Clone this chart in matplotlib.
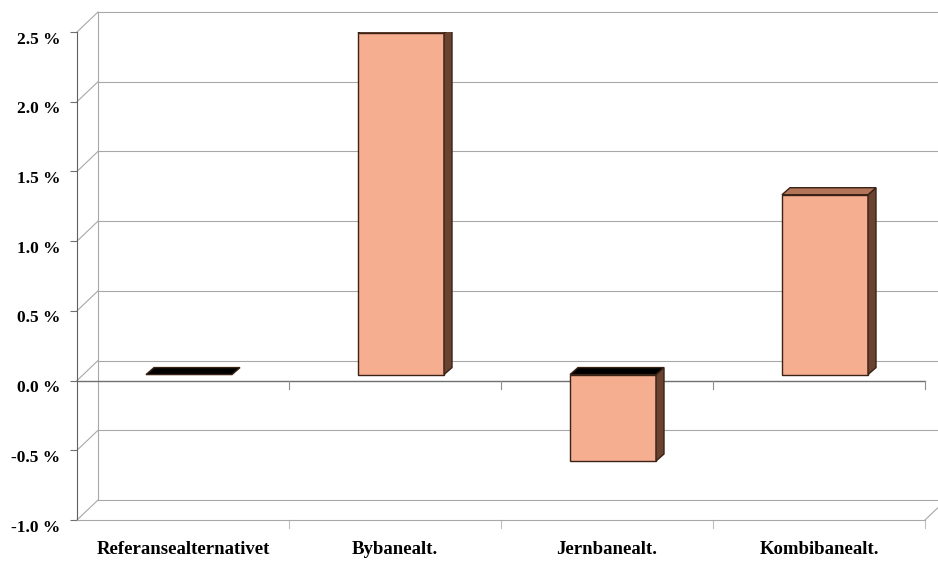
import numpy as np
import matplotlib
matplotlib.use("Agg")
import matplotlib.pyplot as plt
from matplotlib.patches import Polygon
from matplotlib.transforms import ScaledTranslation

# values in percent
categories = ["Referansealternativet", "Bybanealt.", "Jernbanealt.", "Kombibanealt."]
values = [0.0, 2.45, -0.62, 1.29]
yticks = [-1.0, -0.5, 0.0, 0.5, 1.0, 1.5, 2.0, 2.5]

plt.rcParams['font.family'] = ['Liberation Serif', 'DejaVu Serif']
plt.rcParams['font.weight'] = 'bold'

fig = plt.figure(figsize=(9.38, 5.61), dpi=100)
W, H = 938, 561
ax = fig.add_axes([77 / W, (H - 520) / H, 848 / W, 488 / H])
ax.set_xlim(-0.5, 3.5)
ax.set_ylim(-1.0, 2.5)

# pixel -> data scale
px_x = 4.0 / 848
px_y = 3.5 / 488

# depth of the chart box (oblique)
ddx, ddy = 21 * px_x, 20 * px_y
# bar plane offset and bar depth
bx0, by0 = 6 * px_x, 6 * px_y
bdx, bdy = 8 * px_x, 7 * px_y
bar_w = 86 * px_x

grid_c = "#a8a8a8"
kw = dict(color=grid_c, lw=0.8, clip_on=False, zorder=1)

# back wall gridlines and left wall diagonals
for v in yticks:
    ax.plot([-0.5 + ddx, 3.5 + ddx + 0.2], [v + ddy, v + ddy], **kw)
    ax.plot([-0.5, -0.5 + ddx], [v, v + ddy], **kw)
ax.plot([-0.5 + ddx, -0.5 + ddx], [-1.0 + ddy, 2.5 + ddy], **kw)
# floor
ax.plot([3.5, 3.5 + ddx], [-1.0, -1.0 + ddy], **kw)

# category axis at zero
ax.plot([-0.5, 3.5], [0, 0], color="#707070", lw=1.0, zorder=2, clip_on=False)
for b in [0.5, 1.5, 2.5, 3.5]:
    ax.plot([b, b], [0, -8 * px_y], color="#909090", lw=0.8, zorder=2, clip_on=False)
    ax.plot([b, b], [-1.0, -1.0 - 8 * px_y], color="#c0c0c0", lw=0.8, zorder=2, clip_on=False)

front_c = "#f6ae90"
side_c = "#6a4330"
top_c = "#b27558"
edge_c = "#3a2216"

for i, v in enumerate(values):
    xl = i - bar_w / 2 + bx0
    xr = i + bar_w / 2 + bx0
    lo = min(0, v) + by0
    hi = max(0, v) + by0
    cap = top_c if v > 0 else "black"
    if v != 0:
        ax.add_patch(Polygon([(xl, lo), (xr, lo), (xr, hi), (xl, hi)],
                             closed=True, fc=front_c, ec=edge_c, lw=1.0, zorder=5))
        ax.add_patch(Polygon([(xr, lo), (xr + bdx, lo + bdy), (xr + bdx, hi + bdy), (xr, hi)],
                             closed=True, fc=side_c, ec=edge_c, lw=1.0, zorder=5))
    ax.add_patch(Polygon([(xl, hi), (xr, hi), (xr + bdx, hi + bdy), (xl + bdx, hi + bdy)],
                         closed=True, fc=cap, ec=edge_c, lw=1.0, zorder=6))

# axes styling
for s in ["top", "right"]:
    ax.spines[s].set_visible(False)
ax.spines["left"].set_color("#606060")
ax.spines["bottom"].set_color("#a8a8a8")
ax.patch.set_visible(False)

ax.set_yticks(yticks)
ax.set_yticklabels([f"{t:.1f} %" for t in yticks], fontsize=12.5, fontweight="bold")
ax.tick_params(axis="y", direction="out", length=5, width=0.8, color="#707070", pad=7)
shift = ScaledTranslation(0, -4 / 72, fig.dpi_scale_trans)
for lab in ax.get_yticklabels():
    lab.set_transform(lab.get_transform() + shift)

ax.set_xticks(range(len(categories)))
ax.set_xticklabels(categories, fontsize=13.5, fontweight="bold")
ax.tick_params(axis="x", length=0, pad=15)

fig.savefig("out.png", dpi=100)
